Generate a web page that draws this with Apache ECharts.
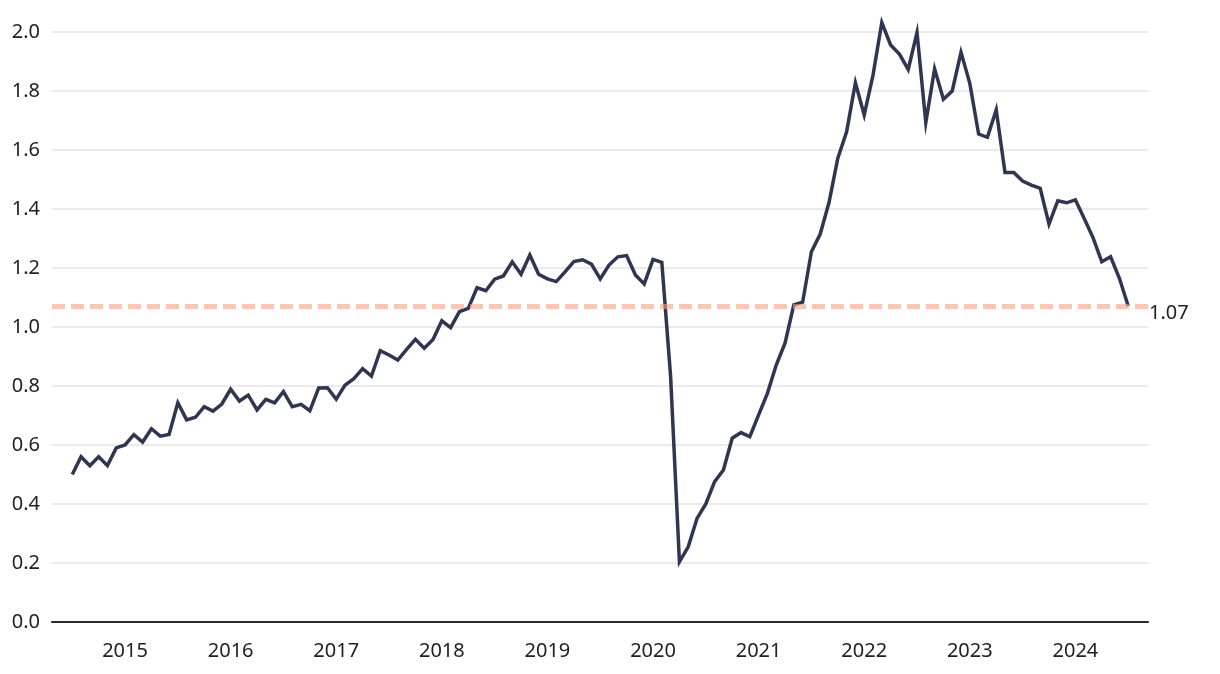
<!DOCTYPE html>
<html>
<head>
<meta charset="utf-8">
<script src="https://cdn.jsdelivr.net/npm/echarts@6/dist/echarts.min.js"></script>
<style>
html,body{margin:0;padding:0;background:#fff;}
#chart{width:1220px;height:674px;}
</style>
</head>
<body>
<div id="chart"></div>
<script>
// Monthly series, July 2014 through July 2024
const baseYear = 2014;          // x axis counts months from January of this year
const firstMonthIndex = 6;      // July 2014
const ratioValues = [
  0.50, 0.56, 0.53, 0.56, 0.53, 0.59, 0.60, 0.635, 0.61, 0.655, 0.63, 0.636,
  0.743, 0.685, 0.694, 0.730, 0.715, 0.739, 0.789, 0.749, 0.769, 0.719, 0.755, 0.743,
  0.781, 0.730, 0.738, 0.716, 0.793, 0.794, 0.755, 0.803, 0.825, 0.859, 0.834, 0.920,
  0.905, 0.888, 0.924, 0.958, 0.928, 0.958, 1.021, 0.998, 1.052, 1.063, 1.133, 1.123,
  1.162, 1.173, 1.221, 1.179, 1.244, 1.179, 1.163, 1.154, 1.187, 1.222, 1.228, 1.213,
  1.163, 1.210, 1.238, 1.242, 1.176, 1.146, 1.229, 1.219, 0.832, 0.204, 0.255, 0.351,
  0.400, 0.476, 0.515, 0.623, 0.642, 0.628, 0.702, 0.775, 0.871, 0.945, 1.075, 1.084,
  1.255, 1.315, 1.422, 1.572, 1.662, 1.828, 1.719, 1.854, 2.032, 1.956, 1.925, 1.873,
  1.998, 1.693, 1.875, 1.772, 1.800, 1.931, 1.826, 1.654, 1.643, 1.736, 1.524, 1.524,
  1.495, 1.481, 1.470, 1.349, 1.428, 1.421, 1.431, 1.368, 1.303, 1.221, 1.238, 1.165,
  1.071
];
const yearLabels = ['2015','2016','2017','2018','2019','2020','2021','2022','2023','2024'];
const referenceValue = 1.07;
const referenceLabel = '1.07';
const axisMinMonth = 3.7;    // axis starts a little before the first month
const axisMaxMonth = 128.25; // and ends a little after the last

const seriesData = ratioValues.map((v, k) => [firstMonthIndex + k, v]);
const yearTickValues = yearLabels.map(y => (+y - baseYear) * 12);

const FONT = 'Noto Sans';
const chart = echarts.init(document.getElementById('chart'), null, {renderer: 'canvas'});
chart.setOption({
  animation: false,
  backgroundColor: '#ffffff',
  grid: {left: 52, right: 72, top: 32, bottom: 52, containLabel: false},
  xAxis: {
    type: 'value',
    min: axisMinMonth,
    max: axisMaxMonth,
    axisLine: {show: true, onZero: false, lineStyle: {color: '#2b2b2b', width: 2}},
    axisTick: {show: false},
    splitLine: {show: false},
    axisLabel: {
      customValues: yearTickValues,
      formatter: v => String(baseYear + Math.round(v / 12)),
      color: '#222',
      fontFamily: FONT,
      fontSize: 20,
      margin: 19,
      showMinLabel: true,
      showMaxLabel: true
    }
  },
  yAxis: {
    type: 'value',
    min: 0,
    max: 2.0,
    interval: 0.2,
    axisLine: {show: false},
    axisTick: {show: false},
    splitLine: {lineStyle: {color: '#e4e4e4', width: 1.5}},
    axisLabel: {
      formatter: v => v.toFixed(1),
      color: '#222',
      fontFamily: FONT,
      fontSize: 20,
      margin: 12
    }
  },
  series: [{
    type: 'line',
    data: seriesData,
    clip: false,
    showSymbol: false,
    symbol: 'none',
    lineStyle: {color: '#2f3652', width: 3.5, join: 'miter'},
    markLine: {
      silent: true,
      symbol: 'none',
      z: 10,
      lineStyle: {color: 'rgba(250,160,130,0.6)', type: [13, 6], width: 5},
      label: {
        show: true,
        position: 'end',
        formatter: referenceLabel,
        color: '#222',
        fontFamily: FONT,
        fontSize: 20,
        distance: 1,
        offset: [0, 7]
      },
      data: [{yAxis: referenceValue}]
    }
  }]
});
</script>
</body>
</html>
